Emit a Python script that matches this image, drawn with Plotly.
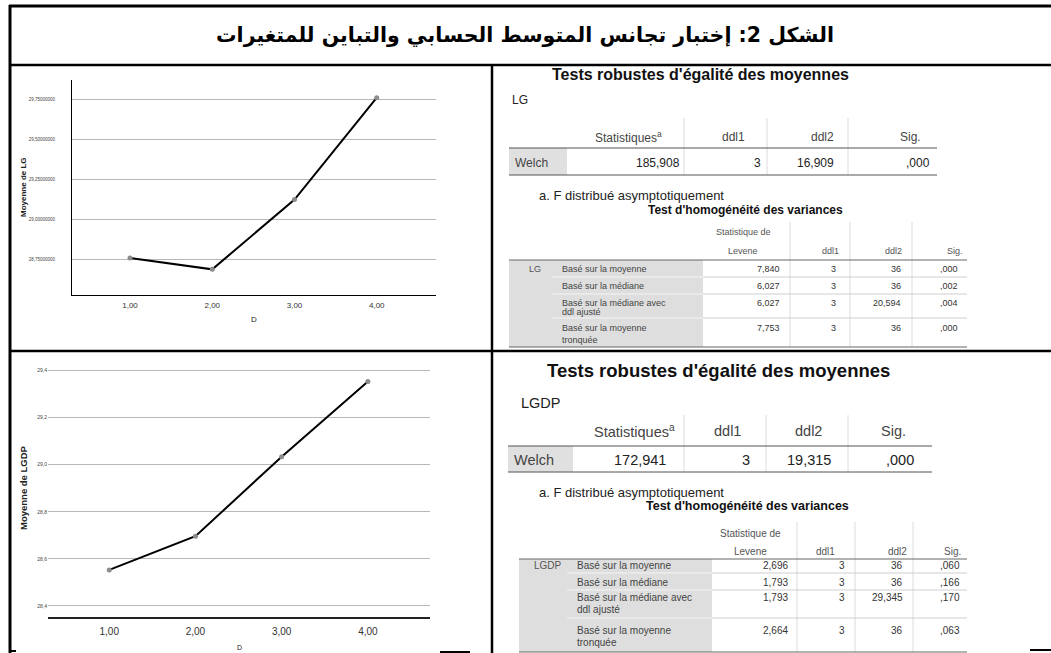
import plotly.graph_objects as go

W, H = 1051, 653

# ---- data -------------------------------------------------------------
d_levels = [1, 2, 3, 4]
d_labels = ["1,00", "2,00", "3,00", "4,00"]

lg_means = [28.76, 28.69, 29.125, 29.76]
lg_ticks = [28.75, 29.00, 29.25, 29.50, 29.75]
lg_ticktext = ["28,75000000", "29,00000000", "29,25000000", "29,50000000", "29,75000000"]

lgdp_means = [28.553, 28.696, 29.034, 29.353]
lgdp_ticks = [28.4, 28.6, 28.8, 29.0, 29.2, 29.4]
lgdp_ticktext = ["28,4", "28,6", "28,8", "29,0", "29,2", "29,4"]

welch_header = ["Statistiques<sup>a</sup>", "ddl1", "ddl2", "Sig."]
welch_lg = ["185,908", "3", "16,909", ",000"]
welch_lgdp = ["172,941", "3", "19,315", ",000"]

levene_header = ["ddl1", "ddl2", "Sig."]
levene_rows = [
    ["Basé sur la moyenne"],
    ["Basé sur la médiane"],
    ["Basé sur la médiane avec", "ddl ajusté"],
    ["Basé sur la moyenne", "tronquée"],
]
levene_lg_stat = ["7,840", "6,027", "6,027", "7,753"]
levene_lg_df1 = ["3", "3", "3", "3"]
levene_lg_df2 = ["36", "36", "20,594", "36"]
levene_lg_sig = [",000", ",002", ",004", ",000"]

levene_lgdp_stat = ["2,696", "1,793", "1,793", "2,664"]
levene_lgdp_df1 = ["3", "3", "3", "3"]
levene_lgdp_df2 = ["36", "36", "29,345", "36"]
levene_lgdp_sig = [",060", ",166", ",170", ",063"]

title_ar = "الشكل 2: إختبار تجانس المتوسط الحسابي والتباين للمتغيرات"

# ---- helpers (pixel -> paper) ----------------------------------------
def X(px):
    return px / W

def Y(py):
    return 1 - py / H

shapes = []
annotations = []

def line(x0, y0, x1, y1, color="black", width=1):
    shapes.append(dict(type="line", xref="paper", yref="paper",
                       x0=X(x0), y0=Y(y0), x1=X(x1), y1=Y(y1),
                       line=dict(color=color, width=width), layer="above"))

def rect(x0, y0, x1, y1, fill):
    shapes.append(dict(type="rect", xref="paper", yref="paper",
                       x0=X(x0), y0=Y(y0), x1=X(x1), y1=Y(y1),
                       fillcolor=fill, line=dict(width=0), layer="below"))

SANS = "Liberation Sans, Arial, sans-serif"

def text(x, y, s, size, anchor="center", bold=False, color="#333333",
         family=SANS, angle=0):
    if bold:
        s = "<b>" + s + "</b>"
    annotations.append(dict(xref="paper", yref="paper", x=X(x), y=Y(y),
                            text=s, showarrow=False, xanchor=anchor,
                            yanchor="middle", textangle=angle,
                            font=dict(size=size, color=color, family=family)))

# ---- frame -----------------------------------------------------------
line(9, 6, 1051, 6, width=3)
line(10, 5, 10, 653, width=3)
line(10, 65, 1051, 65, width=2.5)
line(492, 65, 492, 653, width=2.5)
line(10, 351, 1051, 351, width=2.5)
line(10, 651, 16, 651, width=2)
line(440, 652, 470, 652, width=2)
line(1030, 650, 1051, 650, width=2)

text(525, 35, title_ar, 20.5, bold=True, color="black", family="DejaVu Sans")

# ---- line charts -----------------------------------------------------
fig = go.Figure()
fig.add_trace(go.Scatter(x=d_levels, y=lg_means, mode="lines+markers",
                         line=dict(color="black", width=2),
                         marker=dict(size=5, color="#8c8c8c"),
                         xaxis="x", yaxis="y", showlegend=False))
fig.add_trace(go.Scatter(x=d_levels, y=lgdp_means, mode="lines+markers",
                         line=dict(color="black", width=2),
                         marker=dict(size=5, color="#8c8c8c"),
                         xaxis="x2", yaxis="y2", showlegend=False))

grid = "#b8b8b8"
text(23, 187, "Moyenne de LG", 8, bold=True, color="#222222", angle=-90)
text(254, 319, "D", 8, color="#222222")
text(23, 488, "Moyenne de LGDP", 9.5, bold=True, color="#222222", angle=-90)
text(239, 647, "D", 7, color="#222222")

# ---- table builders --------------------------------------------------
def welch_table(cfg, name, values):
    s = cfg
    text(s["title_x"], s["title_y"], "Tests robustes d'égalité des moyennes",
         s["title_size"], bold=True, color="#111111")
    text(s["name_x"], s["name_y"], name, s["fs"], anchor="left", color="#222222")
    x0, x1 = s["x0"], s["x1"]
    rect(x0, s["hline"], s["stub"], s["bottom"], "#e0e0e0")
    for sx in s["seps"]:
        line(sx, s["sep_top"], sx, s["bottom"], color="#dcdcdc", width=1)
    line(x0, s["hline"], x1, s["hline"], color="#555555", width=1.2)
    line(x0, s["bottom"], x1, s["bottom"], color="#555555", width=1.2)
    for hx, h in zip(s["head_x"], welch_header):
        text(hx, s["head_y"], h, s["fs"], color="#444444")
    text(x0 + 4, s["row_y"], "Welch", s["fs"], anchor="left", color="#444444")
    for (vx, anc), v in zip(s["val_x"], values):
        text(vx, s["row_y"], v, s["fs"], anchor=anc, color="#222222")
    text(s["note_x"], s["note_y"], "a. F distribué asymptotiquement",
         s["note_size"], anchor="left", color="#222222")


def levene_table(cfg, name, stat, df1, df2, sig):
    s = cfg
    text(s["title_x"], s["title_y"], "Test d'homogénéité des variances",
         s["title_size"], bold=True, color="#111111")
    x0, x1 = s["x0"], s["x1"]
    rect(x0, s["hline"], s["stub"], s["bottom"], "#dedede")
    for sx in s["seps"]:
        line(sx, s["sep_top"], sx, s["bottom"], color="#dcdcdc", width=1)
    line(x0, s["hline"], x1, s["hline"], color="#666666", width=1.2)
    for ry in s["row_lines"]:
        line(s["stub"], ry, x1, ry, color="#cfcfcf", width=1)
        line(s["lab_x"] - 8, ry, s["stub"], ry, color="#f4f4f4", width=1)
    line(x0, s["bottom"], x1, s["bottom"], color="#666666", width=1.2)
    fs = s["fs"]
    text(s["stat_cx"], s["head_y1"], "Statistique de", fs, color="#555555")
    text(s["stat_cx"], s["head_y2"], "Levene", fs, color="#555555")
    for hx, h in zip(s["head_x"], levene_header):
        text(hx, s["head_y2"], h, fs, color="#555555")
    text(s["name_x"], s["row_y"][0], name, fs, anchor="left", color="#555555")
    for i, lab in enumerate(levene_rows):
        ys = s["lab_y"][i]
        for k, part in enumerate(lab):
            text(s["lab_x"], ys[k], part, fs, anchor="left", color="#444444")
        ry = s["row_y"][i]
        text(s["col_r"][0], ry, stat[i], fs, anchor="right", color="#333333")
        text(s["col_r"][1], ry, df1[i], fs, anchor="right", color="#333333")
        text(s["col_r"][2], ry, df2[i], fs, anchor="right", color="#333333")
        text(s["col_r"][3], ry, sig[i], fs, anchor="right", color="#333333")


welch_lg_cfg = dict(
    title_x=700, title_y=74, title_size=16, name_x=510, name_y=100, fs=12,
    x0=509, x1=937, stub=567, hline=148, bottom=175, sep_top=118,
    seps=[684, 767, 848], head_x=[628, 733, 822, 910], head_y=137,
    row_y=163, val_x=[(682, "right"), (763, "right"), (836, "right"), (932, "right")],
    note_x=537, note_y=195, note_size=13)

levene_lg_cfg = dict(
    title_x=745, title_y=210, title_size=12, x0=509, x1=967, stub=703,
    hline=260, bottom=347, sep_top=222, seps=[790, 850, 912],
    row_lines=[277, 294, 318], fs=9, stat_cx=743, head_y1=232, head_y2=251,
    head_x=[830, 893, 955], name_x=527, lab_x=560,
    lab_y=[[269], [286], [303, 312], [328, 340]], row_y=[269, 286, 303, 328],
    col_r=[782, 838, 903, 960])

welch_lgdp_cfg = dict(
    title_x=718, title_y=370, title_size=18.5, name_x=519, name_y=403, fs=14.5,
    x0=508, x1=932, stub=573, hline=446, bottom=472, sep_top=415,
    seps=[684, 766, 848], head_x=[634, 727, 808, 893], head_y=431,
    row_y=460, val_x=[(668, "right"), (752, "right"), (833, "right"), (916, "right")],
    note_x=537, note_y=492, note_size=13)

levene_lgdp_cfg = dict(
    title_x=747, title_y=506, title_size=12.5, x0=519, x1=967, stub=712,
    hline=559, bottom=652, sep_top=522, seps=[797, 855, 913],
    row_lines=[573, 590, 618], fs=10, stat_cx=750, head_y1=533, head_y2=551,
    head_x=[825, 897, 952], name_x=532, lab_x=575,
    lab_y=[[565], [582], [597, 609], [630, 642]], row_y=[565, 582, 597, 630],
    col_r=[790, 847, 905, 962])

welch_table(welch_lg_cfg, "LG", welch_lg)
levene_table(levene_lg_cfg, "LG", levene_lg_stat, levene_lg_df1,
             levene_lg_df2, levene_lg_sig)
welch_table(welch_lgdp_cfg, "LGDP", welch_lgdp)
levene_table(levene_lgdp_cfg, "LGDP", levene_lgdp_stat, levene_lgdp_df1,
             levene_lgdp_df2, levene_lgdp_sig)

fig.update_layout(
    width=W, height=H, margin=dict(l=0, r=0, t=0, b=0),
    paper_bgcolor="white", plot_bgcolor="white",
    font=dict(family=SANS, color="#333333"),
    xaxis=dict(domain=[X(72), X(436)], range=[0.295, 4.72],
               tickvals=d_levels, ticktext=d_labels, showgrid=False,
               zeroline=False, showline=True, linecolor="black", linewidth=1,
               ticks="outside", ticklen=2, tickcolor="rgba(0,0,0,0)",
               tickfont=dict(size=8, color="#333333"), anchor="y"),
    yaxis=dict(domain=[Y(295), Y(80)], range=[28.53, 29.87],
               tickvals=lg_ticks, ticktext=lg_ticktext, showgrid=True,
               gridcolor=grid, gridwidth=1, zeroline=False, showline=True,
               linecolor="black", linewidth=1, ticks="outside", ticklen=15,
               tickcolor="rgba(0,0,0,0)",
               tickfont=dict(size=4.5, color="#444444"), anchor="x"),
    xaxis2=dict(domain=[X(48), X(430)], range=[0.29, 4.72],
                tickvals=d_levels, ticktext=d_labels, showgrid=False,
                zeroline=False, showline=True, linecolor="#222222", linewidth=1.5,
                ticks="outside", ticklen=4, tickcolor="rgba(0,0,0,0)",
                tickfont=dict(size=10, color="#333333"), anchor="y2"),
    yaxis2=dict(domain=[Y(617), Y(362)], range=[28.353, 29.436],
                tickvals=lgdp_ticks, ticktext=lgdp_ticktext, showgrid=True,
                gridcolor=grid, gridwidth=1, zeroline=False, showline=False,
                ticks="", tickfont=dict(size=5, color="#444444"), anchor="x2"),
    shapes=shapes, annotations=annotations,
)

fig.write_html("out.html")
